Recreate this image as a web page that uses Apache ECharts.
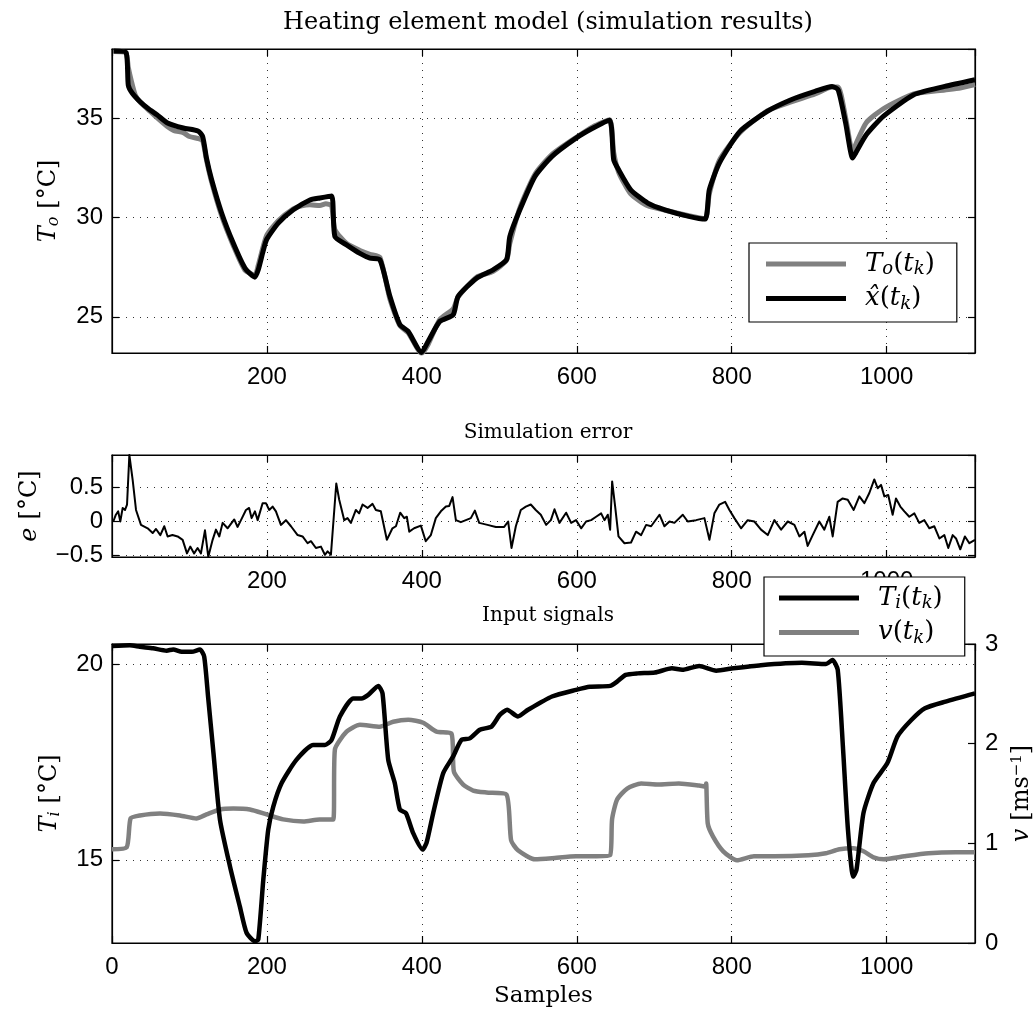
<!DOCTYPE html>
<html>
<head>
<meta charset="utf-8">
<script src="https://cdn.jsdelivr.net/npm/echarts@6/dist/echarts.min.js"></script>
<style>html,body{margin:0;padding:0;background:#fff}#c{width:1036px;height:1014px}</style>
</head>
<body>
<div id="c"></div>
<script>
// ---------- data ----------
const xhat = [[2,38.42],[18,38.35],[21,36.7],[26,36.3],[36,35.87],[47,35.5],[58,35.2],[71,34.8],[92,34.53],[111,34.38],[117,34.1],[122,33.0],[128.6,31.92],[141.5,30.24],[156.5,28.72],[171.6,27.46],[184.5,27.0],[188.8,27.37],[195,28.3],[199.6,28.9],[214.6,29.73],[234,30.4],[255.5,30.9],[268.4,31.0],[283.5,31.1],[287.7,29.05],[302.8,28.63],[320,28.2],[333,27.96],[345.8,27.88],[358.7,26.03],[371.6,24.6],[382.3,24.26],[399.6,23.2],[408,23.75],[423,24.76],[440.4,25.1],[446.8,26.03],[470.6,26.95],[492,27.37],[509.3,27.88],[513.5,29.05],[526.5,30.4],[546,32.09],[568,33.1],[599,34.02],[621,34.53],[642.3,34.92],[647.6,32.93],[654,32.42],[669.6,31.41],[691.6,30.74],[713.7,30.4],[744.5,30.07],[765.6,29.93],[771,31.41],[784,32.76],[810.6,34.36],[845.8,35.37],[876.6,35.96],[907.5,36.38],[929.5,36.63],[937.4,36.46],[947,34.78],[956,33.01],[960,33.27],[973.6,34.19],[995.6,35.12],[1035,36.21],[1075,36.63],[1114,36.97]];

const To = [[2,38.4],[18,38.33],[21,37.6],[25,36.9],[30,36.2],[36,35.85],[47,35.45],[58,35.05],[71,34.62],[80,34.4],[92,34.3],[100,34.1],[111,34.0],[117,33.9],[122,32.9],[128.6,31.8],[141.5,30.1],[156.5,28.6],[171.6,27.35],[184.5,27.1],[188.8,27.6],[199.6,29.1],[214.6,29.85],[234,30.45],[245,30.6],[255.5,30.65],[268.4,30.62],[276,30.7],[283.5,30.6],[287.7,29.4],[302.8,28.7],[320,28.35],[333,28.15],[345.8,28.0],[358.7,25.9],[371.6,24.55],[382.3,24.2],[399.6,23.15],[408,23.6],[423,24.85],[440.4,25.4],[446.8,26.0],[470.6,27.0],[492,27.3],[509.3,27.85],[513.5,28.7],[526.5,30.5],[546,32.2],[568,33.2],[599,34.05],[621,34.6],[642.3,34.95],[647.6,33.3],[654,32.3],[669.6,31.2],[691.6,30.6],[713.7,30.38],[744.5,30.1],[765.6,29.95],[771,31.2],[784,32.9],[810.6,34.3],[845.8,35.4],[876.6,35.85],[907.5,36.25],[929.5,36.6],[937.4,36.6],[947,35.05],[956,33.3],[960,33.7],[973.6,34.8],[995.6,35.5],[1035,36.25],[1075,36.45],[1095,36.55],[1114,36.72]];

const err = [[1.7,0],[5,0.1],[8,0.15],[10.7,0],[13.8,0.2],[16.8,0.17],[19.4,0.25],[22.4,0.98],[26.7,0.61],[31,0.17],[37.4,-0.05],[46,-0.1],[52.5,-0.17],[56.8,-0.11],[62.4,-0.2],[67.5,-0.07],[71.8,-0.22],[78,-0.2],[84.7,-0.22],[91.2,-0.27],[96.8,-0.47],[101,-0.37],[106,-0.47],[110.5,-0.39],[114.8,-0.47],[120,-0.13],[124.3,-0.52],[129.9,-0.27],[134.2,-0.12],[138.5,-0.22],[142.8,-0.02],[149.2,-0.1],[157.8,0.03],[162,-0.08],[166.5,0.02],[172.9,0.17],[177,0.2],[180.2,0.05],[184.5,0.15],[188,0.02],[194.4,0.27],[198.7,0.27],[203,0.17],[207.3,0.22],[211.6,0.15],[218,-0.05],[224.5,0.02],[231,-0.07],[239.6,-0.2],[246,-0.22],[252.5,-0.32],[256.8,-0.29],[263.2,-0.39],[269.7,-0.37],[274.8,-0.49],[278.3,-0.44],[282.6,-0.49],[284.7,-0.47],[289.5,0.56],[293.3,0.32],[299.8,0.02],[304,0.05],[308.4,-0.02],[314.8,0.17],[319,0.12],[323.4,0.25],[329.9,0.2],[336.3,0.26],[340.6,0.17],[347,0.15],[354.8,-0.27],[362,-0.1],[366.5,-0.07],[372,0.13],[377.2,0.05],[380.6,0.07],[383.7,-0.15],[390,-0.1],[398.7,-0.06],[405,-0.29],[411.6,-0.2],[418,0.05],[424.5,0.15],[431,0.22],[435.3,0.23],[439.6,0.36],[443.9,0.02],[450.3,-0.01],[456.8,0.02],[463.2,0.05],[468.4,0.16],[474,-0.02],[484.7,-0.05],[495.5,-0.08],[506.2,-0.08],[511.4,0],[515.7,-0.39],[521.3,-0.07],[527.7,0.17],[534.2,0.22],[540.6,0.25],[547,0.17],[553.5,0.1],[560.4,-0.05],[566.5,0.02],[571.2,0.18],[577.6,-0.02],[586.2,0.13],[592.7,-0.02],[599,0.02],[605.6,-0.1],[612,0],[618.5,0.02],[624.9,0.07],[631.4,0.12],[635.7,0.02],[640,0.1],[643,-0.12],[645.6,0.59],[649.5,0.22],[653.8,-0.22],[661.5,-0.32],[670,-0.31],[676.5,-0.15],[683,-0.2],[689.5,-0.05],[695.9,-0.07],[706.7,0.1],[713.1,-0.07],[719.6,0],[726,-0.02],[736.8,0.1],[743.2,0],[754,0.02],[764.7,0.05],[771.2,-0.27],[777.6,0.12],[784,0.25],[791.4,0.29],[797,0.17],[803.4,0.05],[812,-0.1],[820.6,0.02],[829.2,0],[837.8,-0.12],[846.5,-0.2],[855,0.02],[863.7,-0.12],[872.3,0],[880.9,-0.05],[887.3,-0.22],[893.8,-0.15],[898,-0.36],[904.5,-0.2],[913,0],[919.5,-0.12],[925.9,0.07],[930.3,-0.22],[936.7,0.29],[943.2,0.34],[949.7,0.32],[957.4,0.17],[964.7,0.37],[971.2,0.27],[977.6,0.42],[984,0.62],[988.4,0.49],[992.7,0.54],[997,0.37],[1002,0.39],[1007.7,0.1],[1012,0.34],[1017.6,0.22],[1022.8,0.15],[1029.2,0.07],[1035.7,0.12],[1042,-0.02],[1048.6,0.02],[1055,-0.1],[1061.5,-0.07],[1068,-0.25],[1074.4,-0.2],[1079.5,-0.39],[1085.2,-0.2],[1089.5,-0.25],[1095,-0.41],[1101,-0.22],[1106.7,-0.32],[1114,-0.27]];

const Ti = [[0,20.46],[23,20.48],[36,20.44],[53,20.4],[70.5,20.34],[79,20.37],[90,20.31],[103,20.31],[113.5,20.37],[119,20.19],[124,19.17],[131,17.72],[139.4,16.02],[152.3,14.83],[165,13.81],[173.8,13.13],[184.5,12.92],[188.8,12.96],[195.3,14.49],[201.7,15.77],[208.2,16.36],[219,16.96],[238,17.55],[259.8,17.93],[274.8,17.93],[283.4,18.06],[294.2,18.66],[311.4,19.12],[322,19.12],[330.8,19.21],[343.7,19.44],[349.2,19.25],[356.6,17.55],[365,16.96],[371.6,16.28],[379.4,16.19],[388.8,15.68],[400.9,15.26],[406,15.43],[414.6,16.19],[427.5,17.21],[440.4,17.64],[451,18.06],[461.9,18.1],[474.8,18.32],[489.9,18.4],[500.6,18.7],[510,18.83],[524,18.66],[537,18.83],[568,19.17],[599,19.34],[616.8,19.42],[643,19.44],[652,19.55],[663,19.72],[678.6,19.76],[700.7,19.78],[722.7,19.89],[736,19.85],[758,19.95],[780,19.83],[802,19.89],[837.5,19.97],[890.5,20.03],[921.4,20.0],[930,20.1],[936.8,19.85],[943.5,17.89],[950,15.77],[956.7,14.57],[961,14.74],[970,16.19],[983,16.96],[1000.9,17.47],[1014,18.15],[1031.8,18.57],[1049.4,18.87],[1076,19.04],[1114,19.25]];

const v = [[0,0.94],[19,0.96],[24,1.25],[36,1.28],[62,1.3],[87.7,1.28],[109,1.25],[122,1.29],[139.4,1.34],[156.6,1.35],[178,1.34],[199.6,1.29],[221,1.24],[247,1.22],[268,1.24],[285.6,1.24],[287.7,1.94],[302.8,2.12],[320,2.19],[345.8,2.17],[363,2.22],[382.4,2.24],[401.7,2.21],[418.9,2.12],[438.3,2.1],[441.3,1.72],[453.3,1.59],[466.2,1.53],[483.4,1.51],[509.2,1.49],[515.2,1.03],[524,0.93],[546,0.84],[568,0.85],[599,0.87],[625.6,0.87],[643,0.88],[645.5,1.24],[652,1.44],[665,1.55],[683,1.6],[705,1.59],[731.6,1.6],[758,1.58],[766,1.57],[767,1.6],[769,1.2],[775.7,1.07],[789,0.92],[806.6,0.83],[828.7,0.87],[855,0.87],[899,0.88],[921.4,0.9],[939,0.94],[956.7,0.95],[970,0.92],[983,0.86],[996.5,0.84],[1023,0.87],[1054,0.9],[1089,0.91],[1114,0.91]];

const titles = ['Heating element model (simulation results)', 'Simulation error', 'Input signals'];

// ---------- styling ----------
const SERIF = 'DejaVu Serif';
const SANS = 'Liberation Sans';
const GREY = '#808080';
const rich = {
  i: {fontFamily: SERIF, fontStyle: 'italic', fontSize: 24, color: '#000'},
  n: {fontFamily: SERIF, fontSize: 24, color: '#000'},
  w: {fontFamily: SERIF, fontSize: 24, color: '#000', width: 8},
  sb: {fontFamily: SERIF, fontStyle: 'italic', fontSize: 16, color: '#000', padding: [10, 0, 0, 0]},
  sp: {fontFamily: SERIF, fontSize: 15, color: '#000', padding: [0, 0, 10, 0]}
};
const lrich = {
  i: {fontFamily: SERIF, fontStyle: 'italic', fontSize: 26, color: '#000'},
  n: {fontFamily: SERIF, fontSize: 26, color: '#000'},
  sb: {fontFamily: SERIF, fontStyle: 'italic', fontSize: 18, color: '#000', padding: [11, 0, 0, 0]}
};
const legendNames = {
  To: '{i|T}{sb|o}{n|(}{i|t}{sb|k}{n|)}',
  xhat: '{i|x\u0302}{n|(}{i|t}{sb|k}{n|)}',
  Ti: '{i|T}{sb|i}{n|(}{i|t}{sb|k}{n|)}',
  v: '{i|v}{n|(}{i|t}{sb|k}{n|)}'
};

const GRIDS = [
  {left: 112, top: 49, width: 863, height: 304},
  {left: 112, top: 455, width: 863, height: 102},
  {left: 112, top: 644, width: 863, height: 299}
];

const axisLineStyle = {show: true, onZero: false, lineStyle: {color: '#000', width: 1.2}};
const tickStyle = {show: true, inside: true, length: 7, lineStyle: {color: '#000', width: 1.2}};
const gridLine = {show: true, lineStyle: {color: '#333', width: 1, type: [1, 6]}};
const labelBase = {color: '#000', fontFamily: SANS, fontSize: 24};
const plain = val => String(val);
const minus = val => (val < 0 ? '\u2212' + (-val) : String(val));

function xAx(g, showMin, extra) {
  return Object.assign({
    type: 'value', gridIndex: g, min: 0, max: 1114, minInterval: 200, maxInterval: 200, splitNumber: 5,
    axisLine: axisLineStyle, axisTick: tickStyle, splitLine: gridLine,
    axisLabel: Object.assign({}, labelBase, {margin: 12, showMinLabel: showMin, showMaxLabel: false, formatter: plain})
  }, extra || {});
}
function xMirror(g) {
  return {type: 'value', gridIndex: g, position: 'top', min: 0, max: 1114, minInterval: 200, maxInterval: 200, splitNumber: 5,
    axisLine: axisLineStyle, axisTick: tickStyle, splitLine: {show: false}, axisLabel: {show: false}};
}
function yMirror(g, ref) {
  return {type: 'value', gridIndex: g, position: 'right', min: ref.min, max: ref.max,
    minInterval: ref.minInterval, maxInterval: ref.maxInterval, splitNumber: ref.splitNumber,
    axisLine: axisLineStyle, axisTick: tickStyle, splitLine: {show: false}, axisLabel: {show: false}};
}

const y0 = {type: 'value', gridIndex: 0, min: 23.17, max: 38.52, minInterval: 5, maxInterval: 5, splitNumber: 3,
  axisLine: axisLineStyle, axisTick: tickStyle, splitLine: gridLine,
  axisLabel: Object.assign({}, labelBase, {margin: 9, showMinLabel: false, showMaxLabel: false, formatter: plain}),
  name: '{i|T}{sb|o}{w|}{n|[°C]}', nameLocation: 'middle', nameGap: 50, nameRotate: 90,
  nameTextStyle: {rich: rich}};
const y1 = {type: 'value', gridIndex: 1, min: -0.523, max: 0.98, minInterval: 0.5, maxInterval: 0.5, splitNumber: 3,
  axisLine: axisLineStyle, axisTick: tickStyle, splitLine: gridLine,
  axisLabel: Object.assign({}, labelBase, {margin: 9, showMinLabel: false, showMaxLabel: false, formatter: minus}),
  name: '{i|e}{w|}{n|[°C]}', nameLocation: 'middle', nameGap: 70, nameRotate: 90,
  nameTextStyle: {rich: rich}};
const y2 = {type: 'value', gridIndex: 2, min: 12.875, max: 20.51, minInterval: 5, maxInterval: 5, splitNumber: 2,
  axisLine: axisLineStyle, axisTick: tickStyle, splitLine: gridLine,
  axisLabel: Object.assign({}, labelBase, {margin: 9, showMinLabel: false, showMaxLabel: false, formatter: plain}),
  name: '{i|T}{sb|i}{w|}{n|[°C]}', nameLocation: 'middle', nameGap: 49, nameRotate: 90,
  nameTextStyle: {rich: rich}};
const y3 = {type: 'value', gridIndex: 2, position: 'right', min: 0, max: 3, minInterval: 1, maxInterval: 1, splitNumber: 3,
  axisLine: axisLineStyle, axisTick: tickStyle, splitLine: {show: false},
  axisLabel: Object.assign({}, labelBase, {margin: 10, formatter: plain}),
  name: '{i|v}{w|}{n|[ms}{sp|\u22121}{n|]}', nameLocation: 'middle', nameGap: 34, nameRotate: 90,
  nameTextStyle: {rich: rich}};

const lineS = (name, data, xi, yi, color, w, smooth) => ({
  name: name, type: 'line', data: data, xAxisIndex: xi, yAxisIndex: yi, symbol: 'none', showSymbol: false,
  smooth: smooth || false,
  lineStyle: {color: color, width: w, join: 'round'}, itemStyle: {color: color}, animation: false, clip: true,
  emphasis: {disabled: true}
});

const legendBase = {
  orient: 'vertical', icon: 'rect', itemWidth: 80, itemHeight: 5, itemGap: 7, selectedMode: false,
  borderColor: '#000', borderWidth: 1.2, backgroundColor: '#fff', borderRadius: 0,
  formatter: n => legendNames[n], textStyle: {rich: lrich, padding: [0, 0, 0, 14]}
};

const option = {
  backgroundColor: '#fff',
  animation: false,
  title: [
    {text: titles[0], left: 543, top: 6, textAlign: 'center', textStyle: {fontFamily: SERIF, fontSize: 24, fontWeight: 'normal', color: '#000'}},
    {text: titles[1], left: 543, top: 418, textAlign: 'center', textStyle: {fontFamily: SERIF, fontSize: 20, fontWeight: 'normal', color: '#000'}},
    {text: titles[2], left: 543, top: 601, textAlign: 'center', textStyle: {fontFamily: SERIF, fontSize: 20, fontWeight: 'normal', color: '#000'}}
  ],
  legend: [
    Object.assign({}, legendBase, {data: ['To', 'xhat'], left: 749, top: 243, padding: [8, 22, 9, 17]}),
    Object.assign({}, legendBase, {data: ['Ti', 'v'], left: 764, top: 577, padding: [8, 22, 9, 15]})
  ],
  grid: GRIDS.map(g => Object.assign({show: true, borderColor: '#000', borderWidth: 1.2, backgroundColor: 'transparent',
    containLabel: false, outerBoundsMode: 'none'}, g)),
  xAxis: [
    xAx(0, false),
    xAx(1, false),
    xAx(2, true, {name: 'Samples', nameLocation: 'middle', nameGap: 42, nameTextStyle: {fontFamily: SERIF, fontSize: 23, color: '#000'}}),
    xMirror(0), xMirror(1), xMirror(2)
  ],
  yAxis: [y0, y1, y2, y3, yMirror(0, y0), yMirror(1, y1)],
  series: [
    lineS('To', To, 0, 0, GREY, 5, 0.2),
    lineS('xhat', xhat, 0, 0, '#000', 5, 0.2),
    lineS('e', err, 1, 1, '#000', 2),
    lineS('v', v, 2, 3, GREY, 4.5, 0.2),
    lineS('Ti', Ti, 2, 2, '#000', 4.5, 0.2)
  ]
};

const chart = echarts.init(document.getElementById('c'), null, {renderer: 'canvas'});
chart.setOption(option);
</script>
</body>
</html>
